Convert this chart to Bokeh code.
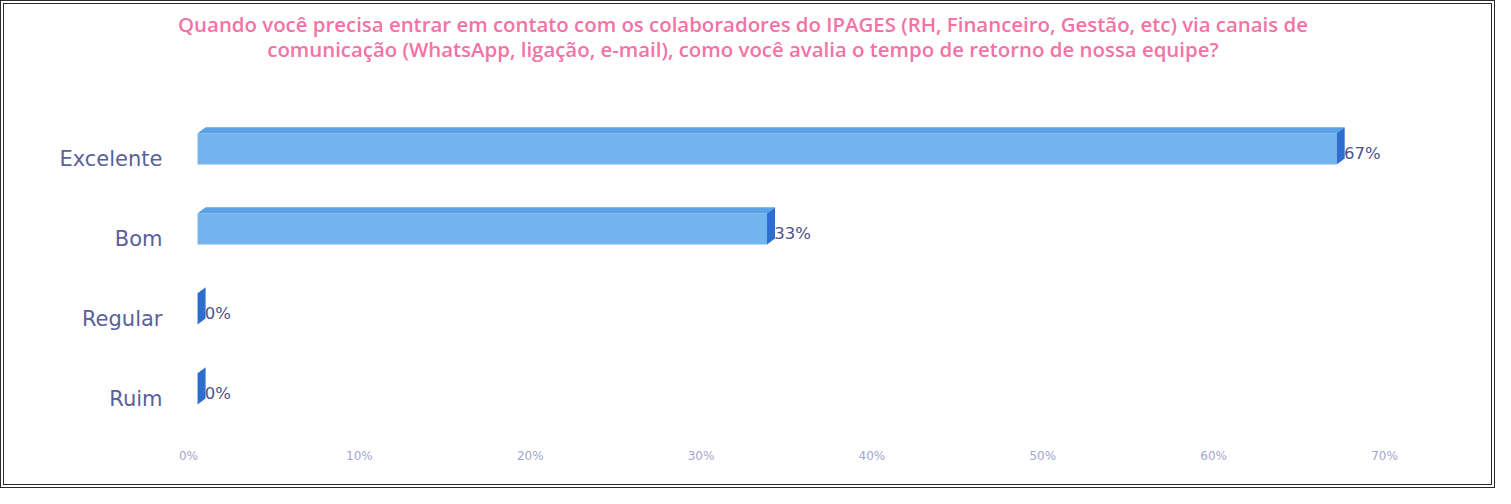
from bokeh.plotting import figure
from bokeh.models import Range1d, FixedTicker, ColumnDataSource, Div
from bokeh.layouts import column
from bokeh.embed import file_html
from bokeh.resources import INLINE
from bokeh.core.properties import value

# ---- data ----
categories = ["Excelente", "Bom", "Regular", "Ruim"]
shares = [0.6667, 0.3333, 0.0, 0.0]
value_labels = ["67%", "33%", "0%", "0%"]
x_ticks = [0.0, 0.1, 0.2, 0.3, 0.4, 0.5, 0.6, 0.7]
x_tick_labels = ["0%", "10%", "20%", "30%", "40%", "50%", "60%", "70%"]
title_lines = [
    "Quando você precisa entrar em contato com os colaboradores do IPAGES (RH, Financeiro, Gestão, etc) via canais de",
    "comunicação (WhatsApp, ligação, e-mail), como você avalia o tempo de retorno de nossa equipe?",
]

# ---- styling constants ----
TITLE_FONT = "Open Sans"
FONT = "DejaVu Sans"
FRONT = "#72b4ee"
TOP = "#5aa2e6"
SIDE = "#2c6fd1"
CAT_COLOR = "#5b6099"
VAL_COLOR = "#4f538c"
TICK_COLOR = "#a3a6cc"
TITLE_COLOR = "#f273a6"

n = len(categories)
pos = [n - 1 - i for i in range(n)]

dx = 0.0053   # front-face shift from axis origin
d = 0.0047    # 3D depth (x, data units)
e = 0.075     # 3D depth (y, category units)
h = 0.39      # front face height
off = 0.12    # bar offset above label centre

front = dict(left=[], right=[], bottom=[], top=[])
top_xs, top_ys, side_xs, side_ys = [], [], [], []
for v, y in zip(shares, pos):
    b = y + off - h / 2
    t = y + off + h / 2
    front["left"].append(dx)
    front["right"].append(v + dx)
    front["bottom"].append(b)
    front["top"].append(t)
    top_xs.append([dx, dx + d, v + dx + d, v + dx])
    top_ys.append([t, t + e, t + e, t])
    side_xs.append([v + dx, v + dx + d, v + dx + d, v + dx])
    side_ys.append([b, b + e, t + e, t])

W = 1487
TITLE_H = 60
PLOT_H = 420

title_html = (
    f'<div style="width:{W}px; box-sizing:border-box; padding:8px 9px 0 0; '
    f'text-align:center; font-family:\'{TITLE_FONT}\'; font-weight:600; '
    f'font-size:20.4px; line-height:25px; color:{TITLE_COLOR}; white-space:nowrap;">'
    + "<br>".join(title_lines) + "</div>"
)
title_div = Div(text=title_html, width=W, height=TITLE_H, margin=0)

p = figure(width=W, height=PLOT_H, output_backend="svg", toolbar_location=None,
           x_range=Range1d(0, 0.7), y_range=Range1d(-0.5, 3.5),
           min_border_left=184, min_border_right=107,
           min_border_top=54, min_border_bottom=46, margin=0)

p.quad(source=ColumnDataSource(front), left="left", right="right",
       bottom="bottom", top="top", fill_color=FRONT, line_color=None)
p.patches(top_xs, top_ys, fill_color=TOP, line_color=None)
p.patches(side_xs, side_ys, fill_color=SIDE, line_color=None)

lab_src = ColumnDataSource(dict(
    x=[v + dx + d * 0.9 for v in shares],
    y=[y + 0.06 for y in pos],
    text=value_labels))
p.text(x="x", y="y", text="text", source=lab_src, text_font=value(FONT),
       text_font_size="16.5px", text_color=VAL_COLOR, text_baseline="middle",
       text_align="left")

# axes
p.xaxis.ticker = FixedTicker(ticks=x_ticks)
p.xaxis.major_label_overrides = {t: l for t, l in zip(x_ticks, x_tick_labels)}
p.xaxis.major_label_text_color = TICK_COLOR
p.xaxis.major_label_text_font = FONT
p.xaxis.major_label_text_font_size = "12px"
p.xaxis.major_label_standoff = 10

p.yaxis.ticker = FixedTicker(ticks=pos)
p.yaxis.major_label_overrides = {y: c for y, c in zip(pos, categories)}
p.yaxis.major_label_text_color = CAT_COLOR
p.yaxis.major_label_text_font = FONT
p.yaxis.major_label_text_font_size = "21px"
p.yaxis.major_label_standoff = 26

for ax in (p.xaxis, p.yaxis):
    ax.axis_line_color = None
    ax.major_tick_line_color = None
    ax.minor_tick_line_color = None
    ax.major_tick_out = 0
    ax.major_tick_in = 0
    ax.minor_tick_out = 0
    ax.minor_tick_in = 0

p.xgrid.grid_line_color = None
p.ygrid.grid_line_color = None
p.outline_line_color = None
p.background_fill_color = "white"
p.border_fill_color = "white"

layout = column(title_div, p, spacing=0,
                styles={"border": "4px double #2a2a2a", "background": "white"})

open("out.html", "w").write(file_html(layout, INLINE))
